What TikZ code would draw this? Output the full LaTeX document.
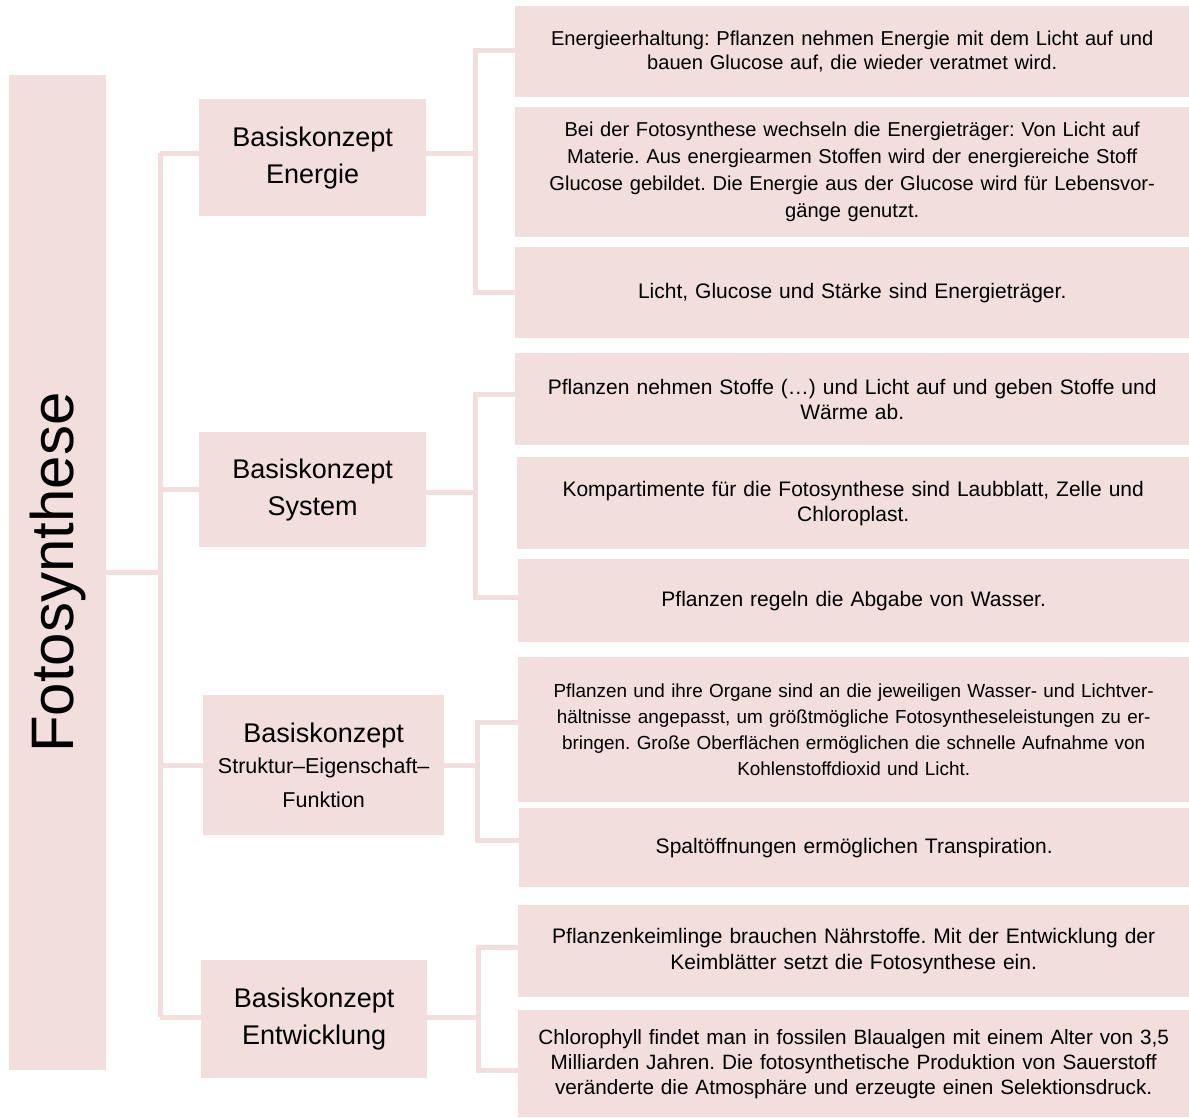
\documentclass[tikz,border=0pt]{standalone}
\usepackage{fontspec}
\setmainfont{Liberation Sans}
\usepackage{graphicx}
\usepackage{tikz}
\definecolor{rosa}{HTML}{F2DEDC}
\frenchspacing

\begin{document}
\begin{tikzpicture}[x=1pt, y=-1pt,
        box/.style={fill=rosa, anchor=north west, inner sep=0pt, align=center},
        konzept/.style={box, font=\fontsize{27}{37}\selectfont},
        aussage/.style={box, minimum width=674pt, text width=660pt, font=\fontsize{21}{25}\selectfont},
        link/.style={draw=rosa, line width=5pt}]
    \useasboundingbox (0,0) rectangle (1189,1117);

    % Wurzel
    \node[box, minimum width=97pt, minimum height=995pt, font=\fontsize{60}{72}\selectfont]
        (root) at (9,75) {\rotatebox{90}{Fotosynthese}};

    % Basiskonzepte
    \node[konzept, minimum width=227pt, minimum height=117pt] (energie) at (199,99) {Basiskonzept\\Energie};
    \node[konzept, minimum width=227pt, minimum height=115pt] (system) at (199,432) {Basiskonzept\\System};
    \node[konzept, minimum width=241pt, minimum height=140pt, text width=236pt, font=\fontsize{27}{34}\selectfont]
        (struktur) at (203,695)
        {Basiskonzept\\\fontsize{21.5}{31}\selectfont Struktur–Eigenschaft–\\Funktion};
    \node[konzept, minimum width=226pt, minimum height=118pt] (entw) at (201,960) {Basiskonzept\\Entwicklung};

    % Aussagen
    \node[aussage, minimum height=91pt, font=\fontsize{20.1}{24}\selectfont] (e1) at (515,6)
        {Energieerhaltung: Pflanzen nehmen Energie mit dem Licht auf und\\bauen Glucose auf, die wieder veratmet wird.};
    \node[aussage, minimum height=130pt, font=\fontsize{20.1}{27}\selectfont] (e2) at (515,107)
        {Bei der Fotosynthese wechseln die Energieträger: Von Licht auf\\Materie. Aus energiearmen Stoffen wird der energiereiche Stoff\\Glucose gebildet. Die Energie aus der Glucose wird für Lebensvor-\\gänge genutzt.};
    \node[aussage, minimum height=91pt] (e3) at (515,247)
        {Licht, Glucose und Stärke sind Energieträger.};
    \node[aussage, minimum height=92pt] (s1) at (515,353)
        {Pflanzen nehmen Stoffe (…) und Licht auf und geben Stoffe und\\Wärme ab.};
    \node[aussage, minimum width=672pt, minimum height=92pt] (s2) at (517,457)
        {Kompartimente für die Fotosynthese sind Laubblatt, Zelle und\\Chloroplast.};
    \node[aussage, minimum width=671pt, minimum height=83pt] (s3) at (518,559)
        {Pflanzen regeln die Abgabe von Wasser.};
    \node[aussage, minimum width=671pt, minimum height=145pt, font=\fontsize{18.9}{26.3}\selectfont] (k1) at (518,657)
        {Pflanzen und ihre Organe sind an die jeweiligen Wasser- und Lichtver-\\hältnisse angepasst, um größtmögliche Fotosyntheseleistungen zu er-\\bringen. Große Oberflächen ermöglichen die schnelle Aufnahme von\\Kohlenstoffdioxid und Licht.};
    \node[aussage, minimum width=670pt, minimum height=79pt] (k2) at (519,808)
        {Spaltöffnungen ermöglichen Transpiration.};
    \node[aussage, minimum width=671pt, minimum height=92pt, font=\fontsize{21}{26}\selectfont] (d1) at (518,905)
        {Pflanzenkeimlinge brauchen Nährstoffe. Mit der Entwicklung der\\Keimblätter setzt die Fotosynthese ein.};
    \node[aussage, minimum width=671pt, minimum height=107pt, font=\fontsize{20.7}{25}\selectfont] (d2) at (518,1010)
        {Chlorophyll findet man in fossilen Blaualgen mit einem Alter von 3,5\\Milliarden Jahren. Die fotosynthetische Produktion von Sauerstoff\\veränderte die Atmosphäre und erzeugte einen Selektionsdruck.};

    % Verbindungen
    \coordinate (spine) at (160,0);
    \coordinate (bE) at (475,0);
    \coordinate (bS) at (475,0);
    \coordinate (bK) at (477,0);
    \coordinate (bD) at (478,0);

    \draw[link] (root.east) -- (root.east -| spine);
    \draw[link] ([yshift=4.5pt]energie.west -| spine) -- ([yshift=2pt]entw.west -| spine);
    \draw[link] ([yshift=4.5pt]energie.west -| spine) -- ([yshift=4.5pt]energie.west);
    \draw[link] (system.west -| spine) -- (system.west);
    \draw[link] (struktur.west -| spine) -- (struktur.west);
    \draw[link] ([yshift=2pt]entw.west -| spine) -- ([yshift=2pt]entw.west);

    \draw[link] ([yshift=4.5pt]energie.east) -- ([yshift=4.5pt]energie.east -| bE);
    \draw[link] ([yshift=1.5pt]e1.west) -- ([yshift=1.5pt]e1.west -| bE)
        -- ([yshift=.5pt]e3.west -| bE) -- ([yshift=.5pt]e3.west);

    \draw[link] ([yshift=-2.5pt]system.east) -- ([yshift=-2.5pt]system.east -| bS);
    \draw[link] ([yshift=5pt]s1.west) -- ([yshift=5pt]s1.west -| bS)
        -- ([yshift=3.5pt]s3.west -| bS) -- ([yshift=3.5pt]s3.west);

    \draw[link] (struktur.east) -- (struktur.east -| bK);
    \draw[link] ([yshift=7.5pt]k1.west) -- ([yshift=7.5pt]k1.west -| bK)
        -- ([yshift=7.5pt]k2.west -| bK) -- ([yshift=7.5pt]k2.west);

    \draw[link] ([yshift=2pt]entw.east) -- ([yshift=2pt]entw.east -| bD);
    \draw[link] ([yshift=4pt]d1.west) -- ([yshift=4pt]d1.west -| bD)
        -- ([yshift=-6.5pt]d2.west -| bD) -- ([yshift=-6.5pt]d2.west);
\end{tikzpicture}
\end{document}
